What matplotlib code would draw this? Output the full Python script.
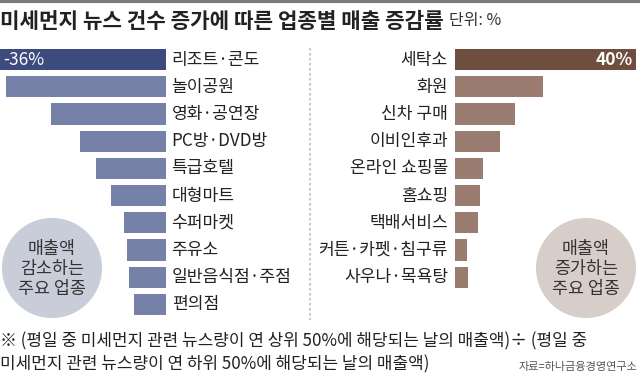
import matplotlib
matplotlib.use('Agg')
import matplotlib.pyplot as plt
from matplotlib.patches import Circle

plt.rcParams['font.family'] = ['Noto Sans CJK KR', 'DejaVu Sans']

# 매출 감소 업종 (%)
dec_labels = ['리조트·콘도', '놀이공원', '영화·공연장', 'PC방·DVD방', '특급호텔',
              '대형마트', '수퍼마켓', '주유소', '일반음식점·주점', '편의점']
dec_values = [-36, -34.7, -25, -18.7, -15.2, -12, -9.1, -8.5, -8, -7]

# 매출 증가 업종 (%)
inc_labels = ['세탁소', '화원', '신차 구매', '이비인후과', '온라인 쇼핑몰',
              '홈쇼핑', '택배서비스', '커튼·카펫·침구류', '사우나·목욕탕']
inc_values = [40, 19.5, 13.3, 10, 6.2, 5.5, 5.1, 2.7, 2.9]

W, H = 640, 380
fig = plt.figure(figsize=(6.4, 3.8), dpi=100)

def px(x0, y0, x1, y1):
    # pixel box (from top-left) -> figure fraction rect
    return [x0 / W, 1 - y1 / H, (x1 - x0) / W, (y1 - y0) / H]

# 배경 요소
bg = fig.add_axes([0, 0, 1, 1])
bg.set_xlim(0, W)
bg.set_ylim(H, 0)
bg.axis('off')
bg.plot([0, W], [1, 1], color='#7a7a7a', lw=3)
bg.plot([310, 310], [48, 320], color='#bdbdbd', lw=1.2, ls=(0, (1.5, 1.5)))
bg.add_patch(Circle((52, 268), 50, color='#c9ccd9', lw=0))
bg.add_patch(Circle((586, 268), 50, color='#d7cdc9', lw=0))
bg.text(52, 269, '매출액\n감소하는\n주요 업종', ha='center', va='center',
        fontsize=12.5, color='#333333', linespacing=1.15)
bg.text(586, 269, '매출액\n증가하는\n주요 업종', ha='center', va='center',
        fontsize=12.5, color='#333333', linespacing=1.15)

t = bg.text(0, 21, '미세먼지 뉴스 건수 증가에 따른 업종별 매출 증감률', ha='left', va='center',
            fontsize=15.3, fontweight='bold', color='#222222')
bg.annotate('단위: %', xy=(1, 0.5), xycoords=t, xytext=(4, 0), textcoords='offset points',
            ha='left', va='center', fontsize=11.5, color='#333333')

bg.text(0, 341, '※ (평일 중 미세먼지 관련 뉴스량이 연 상위 50%에 해당되는 날의 매출액)÷ (평일 중',
        ha='left', va='center', fontsize=12.2, color='#222222')
bg.text(0, 364, '미세먼지 관련 뉴스량이 연 하위 50%에 해당되는 날의 매출액)',
        ha='left', va='center', fontsize=12.2, color='#222222')
bg.text(637, 367, '자료=하나금융경영연구소', ha='right', va='center',
        fontsize=8, color='#555555')

# 왼쪽 막대
axl = fig.add_axes(px(0, 46, 166, 318))
ypos = list(range(len(dec_values)))
cols = ['#3c4a7e'] + ['#7681a8'] * (len(dec_values) - 1)
axl.barh(ypos, dec_values, height=0.78, color=cols)
axl.set_xlim(-36, 0)
axl.set_ylim(9.5, -0.5)
axl.axis('off')
for y, lab in zip(ypos, dec_labels):
    axl.annotate(lab, xy=(0, y), xytext=(4, 0), textcoords='offset points',
                 ha='left', va='center', fontsize=12.3, color='#222222',
                 annotation_clip=False)
axl.text(-35.2, 0, f'{dec_values[0]:.0f}%', ha='left', va='center',
         fontsize=12.5, color='white', fontweight='medium')

# 오른쪽 막대
axr = fig.add_axes(px(455, 46, 636, 318))
ypos2 = list(range(len(inc_values)))
cols2 = ['#6e4f3f'] + ['#9a7c70'] * (len(inc_values) - 1)
axr.barh(ypos2, inc_values, height=0.78, color=cols2)
axr.set_xlim(0, 40)
axr.set_ylim(9.5, -0.5)
axr.axis('off')
for y, lab in zip(ypos2, inc_labels):
    axr.annotate(lab, xy=(0, y), xytext=(-5, 0), textcoords='offset points',
                 ha='right', va='center', fontsize=12.3, color='#222222',
                 annotation_clip=False)
axr.text(39.2, 0, f'{inc_values[0]:.0f}%', ha='right', va='center',
         fontsize=12.5, color='white', fontweight='bold')

fig.savefig('out.png', dpi=100)
